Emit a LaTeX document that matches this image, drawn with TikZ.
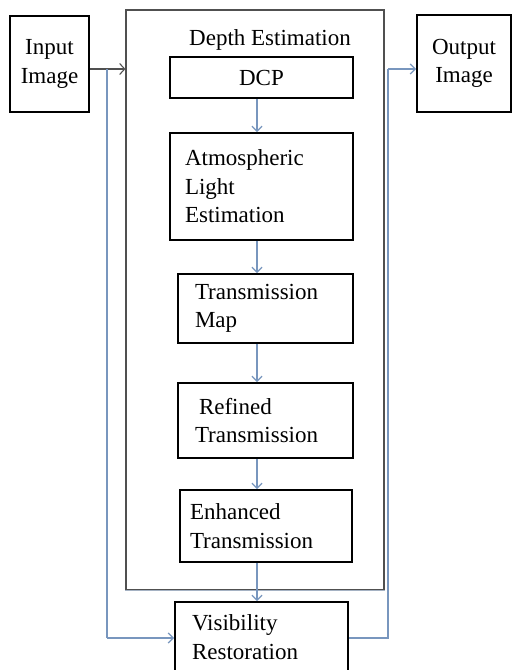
\documentclass[tikz,border=0pt]{standalone}
\usepackage{fontspec}
\setmainfont{Liberation Serif}
\usetikzlibrary{arrows.meta}
\definecolor{connblue}{RGB}{120,150,190}
\definecolor{framegray}{RGB}{80,80,80}
\definecolor{lightedge}{RGB}{165,178,195}
\begin{document}
\begin{tikzpicture}[x=1pt,y=-1pt,
  font=\fontsize{23}{28.5}\selectfont,
  box/.style={draw=black, line width=1.8pt, rectangle, inner ysep=0pt},
  cbox/.style={box, align=center, inner xsep=0pt},
  lbox/.style={box, align=left},
  flow/.style={draw=connblue, line width=1.3pt, -{Straight Barb[length=5pt,width=10pt]}},
  blueline/.style={draw=connblue, line width=1.3pt},
  inarrow/.style={draw=framegray, line width=1.1pt, -{Straight Barb[length=5pt,width=11pt]}}]
\useasboundingbox (0,0) rectangle (512,670);
\fill[white] (0,0) rectangle (512,670);

% big frame
\node[draw=framegray, line width=1.2pt, minimum width=258pt, minimum height=580pt, inner sep=0pt] (depth) at (255,300) {};
\draw[lightedge, line width=1.3pt] (depth.south west) -- (depth.south east);
\node[anchor=base] (title) at (270,45) {Depth Estimation};

% boxes
\node[cbox, minimum width=79pt, minimum height=96pt] (input) at (49.5,64) {Input\\Image};
\node[cbox, minimum width=94pt, minimum height=97pt] (output) at (464,63.5) {Output\\Image};
\node[cbox, minimum width=183pt, minimum height=41pt] (dcp) at (261.5,77.5) {DCP};
\node[lbox, inner xsep=15pt, text width=153pt, minimum height=107pt] (atm) at (261.5,186.5) {Atmospheric\\Light\\Estimation};
\node[lbox, inner xsep=17pt, text width=141pt, minimum height=69pt] (tm) at (265.5,308.5) {Transmission\\Map};
\node[lbox, inner xsep=17pt, text width=141pt, minimum height=75pt] (ref) at (265.5,420.5) {\hspace*{4pt}Refined\\Transmission};
\node[lbox, inner xsep=10pt, text width=152pt, minimum height=72pt] (enh) at (266,526) {Enhanced\\Transmission};
\node[lbox, inner xsep=17pt, text width=139pt, minimum height=70pt] (vis) at (261.5,637) {Visibility\\Restoration};

% connectors inside
\draw[flow] (dcp.south -| 257,0) -- (atm.north -| 257,0);
\draw[flow] (atm.south -| 257,0) -- (tm.north -| 257,0);
\draw[flow] (tm.south -| 257,0) -- (ref.north -| 257,0);
\draw[flow] (ref.south -| 257,0) -- (enh.north -| 257,0);
\draw[flow] (enh.south -| 257,0) -- (vis.north -| 257,0);

% input
\coordinate (jin) at (107,69);
\draw[inarrow] (input.east |- jin) -- (depth.west |- jin);
\coordinate (jinb) at (107,638);
\draw[blueline] (jin) -- (jinb);
\draw[flow] (jinb) -- (vis.west |- jinb);

% output
\coordinate (joutb) at (388,638);
\coordinate (jout) at (388,69);
\draw[blueline] (vis.east |- joutb) -- (joutb) -- (jout);
\draw[flow] (jout) -- (output.west |- jout);
\end{tikzpicture}
\end{document}
